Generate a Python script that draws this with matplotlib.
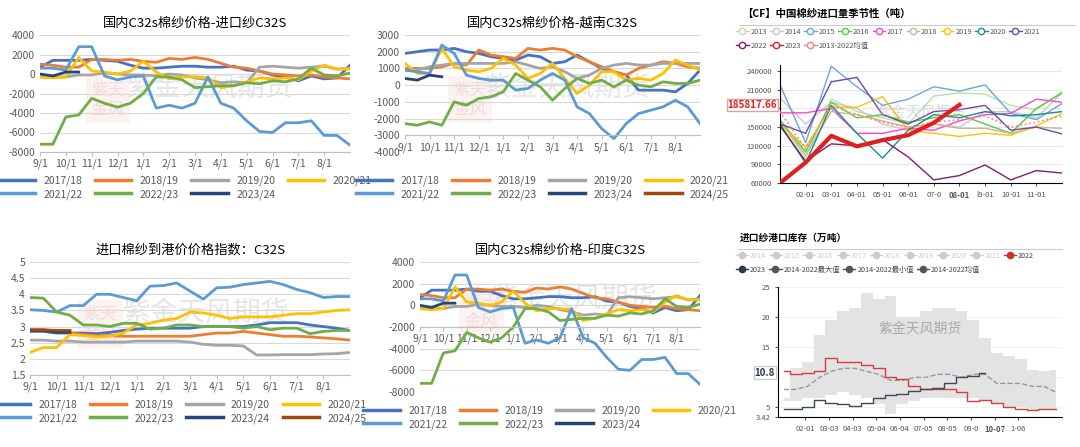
import numpy as np
import matplotlib
matplotlib.use("Agg")
import matplotlib.pyplot as plt
from matplotlib.lines import Line2D

plt.rcParams["font.family"] = ["Noto Sans CJK SC", "DejaVu Sans"]
plt.rcParams["axes.unicode_minus"] = False

# ---- dados: meio-mês de 9/1 a 9/1 ----
seasons = ["2017/18", "2018/19", "2019/20", "2020/21", "2021/22", "2022/23", "2023/24", "2024/25"]
excel_colors = ["#4472C4", "#ED7D31", "#A5A5A5", "#FFC000", "#5B9BD5", "#70AD47", "#264478", "#9E480E"]
month_labels = ["9/1", "10/1", "11/1", "12/1", "1/1", "2/1", "3/1", "4/1", "5/1", "6/1", "7/1", "8/1"]

imp_1718 = [700, 1400, 1400, 1400, 1500, 1400, 1300, 900, 600, 600, 700, 800, 800, 700, 700, 800, 400, 300, -100, -300, -700, -200, -500, -400, 900]
imp_1819 = [1000, 900, 700, 700, 1500, 1500, 1400, 1500, 1300, 1200, 1600, 1500, 1700, 1500, 1100, 700, 600, 300, 0, -100, -200, -100, -300, -400, -500]
imp_1920 = [-300, -300, -300, -100, -100, 100, 0, -100, -100, -200, 0, -100, -400, -600, -900, -800, -900, 700, 800, 700, 600, 700, 800, 500, 600]
imp_2021 = [-300, -400, -300, 1700, 300, 200, 0, 300, 1300, 200, -500, -300, -300, -400, -1400, -1200, -800, -400, -500, -400, -600, 300, 900, 500, 500]
imp_2122 = [600, 600, 400, 2800, 2800, -200, -600, -300, -200, -3500, -3200, -3500, -3000, -300, -3000, -3500, -4800, -5900, -6000, -5000, -5000, -4800, -6300, -6300, -7300]
imp_2223 = [-7200, -7200, -4400, -4200, -2500, -3000, -3400, -3000, -2000, -300, -300, -600, -1400, -1300, -1200, -1200, -900, -1000, -700, -800, -500, 600, -100, -200, 100]
imp_2324 = [0, -200, 200, 200]

vn_1718 = [1900, 2000, 2100, 2100, 2200, 2000, 1900, 1700, 1600, 1500, 1800, 1700, 1300, 1400, 1800, 1400, 1000, 800, 600, -300, -300, -300, -400, 100, 900]
vn_1819 = [1000, 1000, 1000, 1100, 1300, 1200, 2100, 1800, 1700, 1600, 2200, 2100, 2200, 2100, 1700, 1400, 1100, 800, 600, 1000, 1200, 1400, 1300, 1100, 1000]
vn_1920 = [900, 900, 1100, 1200, 1300, 1300, 1300, 1300, 1300, 1400, 1200, 1000, 1100, 800, 400, 600, 1000, 1200, 1300, 1200, 1200, 1300, 1300, 1300, 1300]
vn_2021 = [1300, 700, 700, 2200, 1100, 900, 800, 1000, 1600, 1200, 400, 700, 1300, 400, -500, 0, 800, 800, 300, 400, 300, 700, 1500, 1200, 900]
vn_2122 = [900, 800, 700, 2400, 1900, 600, 400, 300, 300, -300, -200, 300, 700, 300, -1300, -1700, -2600, -3200, -2300, -1700, -1500, -1300, -900, -1300, -2300]
vn_2223 = [-2300, -2400, -2200, -2400, -1000, -1200, -800, -700, -400, 700, 300, -100, -900, -200, 400, 100, 300, -100, 300, 0, -100, 200, 100, 100, 300]
vn_2324 = [400, 300, 600, 500]

idx_1718 = [2.85, 2.85, 2.8, 2.8, 2.8, 2.78, 2.82, 2.88, 2.92, 2.95, 2.95, 2.95, 2.95, 3.0, 3.0, 3.0, 3.0, 3.05, 3.12, 3.12, 3.12, 3.05, 3.0, 2.95, 2.88]
idx_1819 = [2.9, 2.9, 2.85, 2.8, 2.75, 2.72, 2.72, 2.7, 2.7, 2.7, 2.7, 2.7, 2.7, 2.75, 2.8, 2.8, 2.85, 2.8, 2.75, 2.7, 2.7, 2.68, 2.65, 2.62, 2.58]
idx_1920 = [2.58, 2.58, 2.55, 2.55, 2.52, 2.52, 2.52, 2.52, 2.55, 2.55, 2.55, 2.55, 2.52, 2.45, 2.42, 2.42, 2.4, 2.12, 2.12, 2.13, 2.13, 2.13, 2.15, 2.16, 2.2]
idx_2021 = [2.2, 2.35, 2.35, 2.75, 2.72, 2.68, 2.7, 2.8, 3.05, 3.1, 3.2, 3.25, 3.45, 3.42, 3.35, 3.25, 3.3, 3.3, 3.3, 3.35, 3.4, 3.4, 3.45, 3.5, 3.52]
idx_2122 = [3.52, 3.5, 3.45, 3.65, 3.65, 4.0, 4.0, 3.9, 3.8, 4.25, 4.27, 4.35, 4.1, 3.85, 4.2, 4.22, 4.3, 4.35, 4.4, 4.3, 4.15, 4.05, 3.9, 3.93, 3.93]
idx_2223 = [3.9, 3.88, 3.45, 3.35, 3.05, 3.05, 3.0, 3.1, 3.1, 2.92, 2.95, 3.05, 3.05, 3.0, 3.0, 3.0, 2.95, 3.0, 2.9, 2.95, 2.95, 2.78, 2.85, 2.88, 2.88]
idx_2324 = [2.88, 2.88, 2.82, 2.82]
idx_2425 = [2.9, 2.9, 2.88, 2.88]

# 印度 C32S: quase igual ao painel de importados
ind_1718 = [700, 1400, 1400, 1400, 1500, 1300, 1300, 900, 600, 600, 700, 800, 800, 700, 700, 800, 400, 300, -100, -300, -700, -200, -500, -400, 900]
ind_1819 = imp_1819
ind_1920 = imp_1920
ind_2021 = imp_2021
ind_2122 = imp_2122
ind_2223 = imp_2223
ind_2324 = imp_2324

# 进口量季节性
vol_years = ["2013", "2014", "2015", "2016", "2017", "2018", "2019", "2020", "2021", "2022", "2023", "2013-2022均值"]
vol_colors = ["#b5e3a0", "#c8c8c8", "#6aa7e0", "#55cc44", "#ff44cc", "#c8b88a", "#ffc000", "#1a8a8a", "#6a4aaa", "#8a1a6a", "#e02020", "#ff8080"]
vol_data = [
    [160000, 100000, 195000, 175000, 165000, 155000, 200000, 205000, 203000, 185000, 178000, 207000],
    [197000, 155000, 190000, 180000, 155000, 145000, 155000, 150000, 175000, 175000, 165000, 205000],
    [218000, 125000, 248000, 215000, 185000, 195000, 215000, 208000, 218000, 172000, 162000, 188000],
    [162000, 110000, 190000, 165000, 170000, 158000, 165000, 170000, 155000, 140000, 180000, 205000],
    [173000, 173000, 180000, 140000, 140000, 148000, 145000, 160000, 170000, 172000, 195000, 190000],
    [160000, 105000, 175000, 170000, 160000, 150000, 155000, 148000, 148000, 140000, 150000, 148000],
    [155000, 118000, 182000, 182000, 199000, 145000, 140000, 135000, 140000, 137000, 152000, 172000],
    [155000, 92000, 185000, 140000, 100000, 145000, 170000, 165000, 175000, 168000, 170000, 175000],
    [155000, 140000, 223000, 230000, 170000, 155000, 175000, 178000, 185000, 145000, 150000, 139000],
    [152000, 95000, 123000, 120000, 130000, 102000, 65000, 72000, 89000, 65000, 80000, 76000],
    [60000, 93000, 136000, 119000, 129000, 137000, 157000, 185817.66],
    [175000, 115000, 185000, 170000, 158000, 150000, 158000, 162000, 168000, 150000, 158000, 168000],
]
vol_ticks = ["02-01", "03-01", "04-01", "05-01", "06-01", "07-0", "08-01", "l9-01", "10-01", "11-01"]

# 进口纱港口库存 (半月)
inv_max = [6.5, 11.5, 12.5, 17, 19.5, 21, 21.5, 24, 23, 23.5, 20, 20, 21, 21.5, 21.5, 21, 19.5, 16.5, 14, 13.5, 13, 11.2, 11, 11.3]
inv_min = [6, 6, 6.5, 6.5, 7, 7.5, 7, 6.5, 5.5, 4, 5.5, 6, 6.5, 6.5, 6.6, 6.5, 6.5, 6, 5.5, 5, 5, 4.5, 4.5, 4.5]
inv_mean = [8, 8, 8.5, 10, 11, 11.5, 11.5, 11, 10.5, 9.5, 9.5, 10, 10, 10.5, 10.5, 10, 10.5, 10.5, 9, 9, 9, 8.5, 8.5, 7.5]
inv_2022 = [11, 10.5, 10.8, 11, 13.2, 12.5, 12.5, 12, 11.5, 10, 9.7, 8.5, 8, 8, 8, 7.5, 6, 6.2, 5.8, 5, 4.8, 4.5, 4.8, 4.8]
inv_2023 = [4.8, 4.8, 5, 6.2, 5.8, 5.5, 5.3, 5.8, 6.5, 7, 7.3, 7.8, 8, 8.2, 9, 10, 10.3, 10.8]
inv_ticks = ["02-01", "03-03", "04-03", "05-04", "06-04", "07-05", "08-05", "09-0", "10-07", "1-06"]

W, H = 1080, 447
fig = plt.figure(figsize=(W / 100, H / 100), dpi=100)


def box(x0, y0, x1, y1):
    return [x0 / W, 1 - y1 / H, (x1 - x0) / W, (y1 - y0) / H]


def row_major(items, ncol):
    # legenda do matplotlib preenche por coluna; reordena para ler por linha
    cols = [items[j::ncol] for j in range(ncol)]
    return [it for c in cols for it in c]


def flow_legend(rect, handles, labels, fontsize, colors=None):
    # uma legenda por linha, sem alinhar colunas
    lax = fig.add_axes(box(*rect))
    lax.axis("off")
    leg = lax.legend(handles, labels, ncol=len(labels), loc="upper left", frameon=False,
                     fontsize=fontsize, handlelength=1.7, columnspacing=0.45, handletextpad=0.25,
                     borderaxespad=0, borderpad=0)
    for t, c in zip(leg.get_texts(), colors or ["#555555"] * len(labels)):
        t.set_color(c)


def excel_panel(rect, title, series, ylim, yticks, xaxis_y, legend_top, wm_y=0.55):
    ax = fig.add_axes(box(*rect))
    x = np.arange(25) / 2.0
    for i, s in enumerate(series):
        if s is None:
            continue
        ax.plot(x[:len(s)], s, color=excel_colors[i], lw=2)
    ax.set_xlim(0, 12)
    ax.set_ylim(*ylim)
    ax.set_yticks(yticks)
    ax.set_yticklabels(["%g" % v for v in yticks])
    ax.set_xticks(np.arange(12))
    ax.set_xticklabels(month_labels)
    ax.grid(axis="y", color="#d9d9d9", lw=0.8)
    ax.set_axisbelow(True)
    for sp in ["top", "right", "left"]:
        ax.spines[sp].set_visible(False)
    ax.spines["bottom"].set_position(("data", xaxis_y))
    ax.spines["bottom"].set_color("#bfbfbf")
    ax.tick_params(labelsize=7.5, colors="#595959", length=0)
    ax.tick_params(axis="x", length=3, color="#bfbfbf", pad=2)
    ax.set_title(title, fontsize=9.5, pad=6)
    ax.text(0.55, wm_y, "紫金天风期货", transform=ax.transAxes, fontsize=20, color="#aaaaaa",
            alpha=0.3, ha="center", va="center", zorder=0)
    ax.text(0.22, wm_y - 0.1, "紫天\n金风", transform=ax.transAxes, fontsize=12, color="#c0504d",
            alpha=0.15, ha="center", va="center", zorder=0,
            bbox=dict(fc="#f4cccc", ec="none", alpha=0.25))
    handles = [Line2D([], [], color=excel_colors[i], lw=2.5) for i, s in enumerate(series) if s is not None]
    labels = [seasons[i] for i, s in enumerate(series) if s is not None]
    lax = fig.add_axes(box(rect[0] - 20, legend_top, rect[2], legend_top + 35))
    lax.axis("off")
    lax.legend(row_major(handles, 4), row_major(labels, 4), ncol=4, loc="center", frameon=False,
               fontsize=7.5, handlelength=3.5, columnspacing=1.2, labelspacing=0.3, labelcolor="#595959")
    return ax


excel_panel((40, 35, 350, 152), "国内C32s棉纱价格-进口纱C32S",
            [imp_1718, imp_1819, imp_1920, imp_2021, imp_2122, imp_2223, imp_2324, None],
            (-8000, 4000), np.arange(-8000, 4001, 2000), -8000, 170)
excel_panel((405, 35, 700, 152), "国内C32s棉纱价格-越南C32S",
            [vn_1718, vn_1819, vn_1920, vn_2021, vn_2122, vn_2223, vn_2324, []],
            (-4000, 3000), np.arange(-4000, 3001, 1000), -3000, 170)
excel_panel((30, 262, 350, 375), "进口棉纱到港价价格指数：C32S",
            [idx_1718, idx_1819, idx_1920, idx_2021, idx_2122, idx_2223, idx_2324, idx_2425],
            (1.5, 5), np.arange(1.5, 5.01, 0.5), 1.5, 394)
excel_panel((420, 262, 700, 392), "国内C32s棉纱价格-印度C32S",
            [ind_1718, ind_1819, ind_1920, ind_2021, ind_2122, ind_2223, ind_2324, None],
            (-8000, 4000), np.arange(-8000, 4001, 2000), -2000, 400, wm_y=0.72)

# ---- 进口量季节性 ----
ax = fig.add_axes(box(780, 65, 1062, 183))
months = np.arange(1, 13)
for i, (name, vals) in enumerate(zip(vol_years, vol_data)):
    if name == "2023":
        ax.plot(months[:len(vals)], vals, color=vol_colors[i], lw=3, zorder=5)
    elif "均值" in name:
        ax.plot(months, vals, color=vol_colors[i], lw=1.2, ls=":", zorder=4)
    else:
        ax.plot(months, vals, color=vol_colors[i], lw=1)
ax.set_xlim(1, 12)
ax.set_ylim(60000, 250000)
ax.set_yticks(np.arange(60000, 240001, 30000))
ax.set_xticks(months[1:11])
ax.set_xticklabels(vol_ticks)
ax.get_xticklabels()[6].set_color("#e02020")
ax.get_xticklabels()[6].set_fontweight("bold")
ax.get_xticklabels()[6].set_fontsize(7.5)
ax.grid(axis="y", color="#e6e6e6", lw=0.8)
for sp in ["top", "right"]:
    ax.spines[sp].set_visible(False)
ax.tick_params(labelsize=5.5, colors="#555555", length=2)
ax.text(-0.01, 185817.66, "185817.66", transform=ax.get_yaxis_transform(), ha="right", va="center",
        fontsize=7, color="#e02020", fontweight="bold", bbox=dict(fc="white", ec="#e0a0a0", pad=0.8))
ax.text(0.5, 0.6, "紫金天风期货", transform=ax.transAxes, fontsize=11, color="#aaaaaa", alpha=0.4,
        ha="center", va="center")
fig.text(742 / W, 1 - 14 / H, "【CF】中国棉纱进口量季节性（吨）", fontsize=7.5, fontweight="bold", va="center")
fig.add_artist(Line2D([740 / W, 1075 / W], [1 - 25 / H] * 2, color="#cccccc", lw=0.8))
hs = [Line2D([], [], color=c, lw=1, marker="o", mfc="white", ms=4.5) for c in vol_colors]
flow_legend((736, 28, 1078, 40), hs[:9], vol_years[:9], 5.3)
flow_legend((736, 42, 1078, 54), hs[9:], vol_years[9:], 5.3)

# ---- 进口纱港口库存 ----
ax = fig.add_axes(box(778, 287, 1062, 417))
xi = np.arange(len(inv_max))
ax.fill_between(xi, inv_min, inv_max, step="mid", color="#e3e3e3", lw=0)
ax.plot(xi, inv_mean, color="#999999", ls="--", lw=1)
ax.plot(xi, inv_2022, color="#d04040", lw=1, drawstyle="steps-mid")
ax.plot(xi[:len(inv_2023)], inv_2023, color="#3a4a5a", lw=1, drawstyle="steps-mid")
ax.set_xlim(-0.5, 23.5)
ax.set_ylim(3.42, 25)
ax.set_yticks([3.42, 5, 15, 20, 25])
ax.set_yticklabels(["3.42", "5", "15", "20", "25"])
ax.set_xticks(np.arange(1.8, 20, 2.0)[:10])
ax.set_xticklabels(inv_ticks)
ax.get_xticklabels()[8].set_fontweight("bold")
ax.get_xticklabels()[8].set_fontsize(7)
ax.get_xticklabels()[8].set_color("#2a3a4a")
for v in [5, 10, 15, 20, 25]:
    ax.axhline(v, color="#eeeeee", lw=0.6, zorder=0)
for sp in ["top", "right"]:
    ax.spines[sp].set_visible(False)
ax.tick_params(labelsize=5.5, colors="#555555", length=2)
ax.text(-0.01, 10.8, "10.8", transform=ax.get_yaxis_transform(), ha="right", va="center",
        fontsize=7, color="#2a3a4a", fontweight="bold", bbox=dict(fc="white", ec="#cccccc", pad=0.8))
ax.text(0.5, 0.68, "紫金天风期货", transform=ax.transAxes, fontsize=10, color="#aaaaaa",
        ha="center", va="center")
fig.text(740 / W, 1 - 238 / H, "进口纱港口库存（万吨）", fontsize=7, fontweight="bold", va="center")
fig.add_artist(Line2D([738 / W, 1062 / W], [1 - 249 / H] * 2, color="#cccccc", lw=0.8))
inv_names = ["2014", "2015", "2016", "2017", "2018", "2019", "2020", "2021", "2022",
             "2023", "2014-2022最大值", "2014-2022最小值", "2014-2022均值"]
inv_cols = ["#cccccc"] * 8 + ["#d03030", "#2a3a4a", "#555555", "#555555", "#555555"]
txt_cols = ["#cccccc"] * 8 + ["#444444"] * 5
hs = [Line2D([], [], color=c, lw=1, marker="o", ms=4.5) for c in inv_cols]
flow_legend((736, 252, 1078, 264), hs[:9], inv_names[:9], 5.2, txt_cols[:9])
flow_legend((736, 266, 1078, 278), hs[9:], inv_names[9:], 5.2, txt_cols[9:])

fig.savefig("out.png", dpi=100)
